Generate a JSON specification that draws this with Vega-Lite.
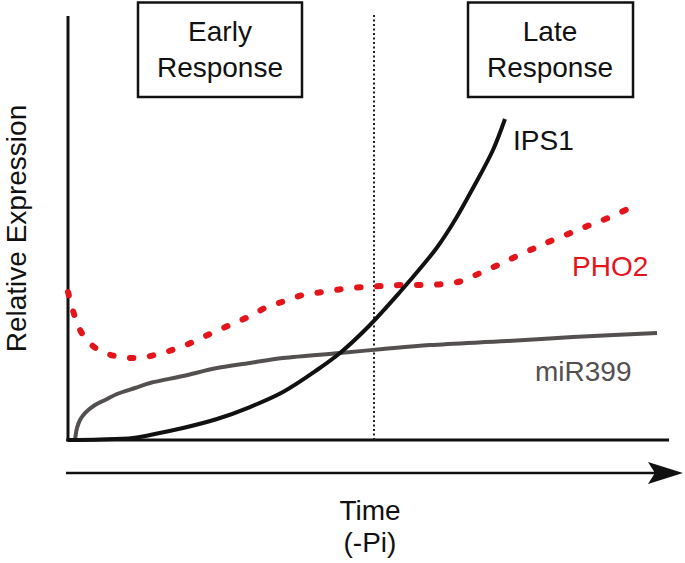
{
  "$schema": "https://vega.github.io/schema/vega-lite/v6.json",
  "width": 685,
  "height": 563,
  "autosize": {"type": "fit", "contains": "padding"},
  "padding": 0,
  "background": "white",
  "config": {"view": {"stroke": null}, "text": {"font": "Liberation Sans", "fontSize": 28}},
  "datasets": {
    "axes": [
      {"t": 0, "v": -0.035, "t2": 0, "v2": 9.976},
      {"t": -0.03, "v": 0, "t2": 10.017, "v2": 0}
    ],
    "shaft": [
      {"t": -0.033, "v": -0.776, "t2": 9.85, "v2": -0.776}
    ],
    "divider": [
      {"t": 5.1, "v": 0, "t2": 5.1, "v2": 10.05}
    ],
    "boxes": [
      {"t": 1.1667, "v": 10.294, "t2": 3.9, "v2": 8.071},
      {"t": 6.667, "v": 10.294, "t2": 9.417, "v2": 8.071}
    ],
    "arrowhead": [
      {"t": 9.958, "v": -0.776}
    ],
    "IPS1": [
      {"t": 0, "v": 0}, {"t": 0.533, "v": 0.012}, {"t": 1.083, "v": 0.047},
      {"t": 1.367, "v": 0.118}, {"t": 1.917, "v": 0.282}, {"t": 2.483, "v": 0.494},
      {"t": 3.033, "v": 0.776}, {"t": 3.583, "v": 1.129}, {"t": 4.15, "v": 1.647},
      {"t": 4.533, "v": 2.047}, {"t": 5.0, "v": 2.659}, {"t": 5.533, "v": 3.482},
      {"t": 5.917, "v": 4.118}, {"t": 6.15, "v": 4.529}, {"t": 6.45, "v": 5.176},
      {"t": 6.75, "v": 5.929}, {"t": 7.083, "v": 6.824}, {"t": 7.283, "v": 7.553}
    ],
    "PHO2": [
      {"t": 0, "v": 3.482}, {"t": 0.117, "v": 2.894}, {"t": 0.25, "v": 2.471},
      {"t": 0.483, "v": 2.141}, {"t": 0.783, "v": 1.976}, {"t": 1.117, "v": 1.929},
      {"t": 1.45, "v": 2.0}, {"t": 1.783, "v": 2.141}, {"t": 2.083, "v": 2.306},
      {"t": 2.4, "v": 2.518}, {"t": 2.7, "v": 2.706}, {"t": 3.0, "v": 2.894},
      {"t": 3.317, "v": 3.129}, {"t": 3.617, "v": 3.271}, {"t": 3.917, "v": 3.412},
      {"t": 4.25, "v": 3.482}, {"t": 4.583, "v": 3.553}, {"t": 4.917, "v": 3.6},
      {"t": 5.25, "v": 3.624}, {"t": 5.567, "v": 3.647}, {"t": 5.917, "v": 3.647},
      {"t": 6.25, "v": 3.671}, {"t": 6.567, "v": 3.741}, {"t": 6.867, "v": 3.929},
      {"t": 7.167, "v": 4.118}, {"t": 7.483, "v": 4.329}, {"t": 7.817, "v": 4.541},
      {"t": 8.083, "v": 4.706}, {"t": 8.417, "v": 4.894}, {"t": 8.7, "v": 5.059},
      {"t": 9.0, "v": 5.224}, {"t": 9.4, "v": 5.482}
    ],
    "miR399": [
      {"t": 0.117, "v": 0}, {"t": 0.15, "v": 0.282}, {"t": 0.2, "v": 0.471},
      {"t": 0.283, "v": 0.635}, {"t": 0.45, "v": 0.824}, {"t": 0.617, "v": 0.941},
      {"t": 0.817, "v": 1.082}, {"t": 1.117, "v": 1.224}, {"t": 1.367, "v": 1.341},
      {"t": 1.917, "v": 1.506}, {"t": 2.483, "v": 1.694}, {"t": 3.033, "v": 1.812},
      {"t": 3.583, "v": 1.929}, {"t": 4.533, "v": 2.047}, {"t": 5.25, "v": 2.141},
      {"t": 6.033, "v": 2.235}, {"t": 7.317, "v": 2.329}, {"t": 8.417, "v": 2.424},
      {"t": 9.817, "v": 2.518}
    ],
    "centerText": [
      {"t": 2.533, "v": 9.388, "label": "Early"},
      {"t": 2.533, "v": 8.541, "label": "Response"},
      {"t": 8.033, "v": 9.388, "label": "Late"},
      {"t": 8.033, "v": 8.541, "label": "Response"},
      {"t": 5.033, "v": -1.882, "label": "Time"},
      {"t": 5.033, "v": -2.635, "label": "(-Pi)"}
    ],
    "geneLabels": [
      {"t": 7.417, "v": 6.824, "label": "IPS1"},
      {"t": 8.4, "v": 3.859, "label": "PHO2"},
      {"t": 7.783, "v": 1.388, "label": "miR399"}
    ],
    "yTitle": [
      {"t": -0.7, "v": 4.976, "label": "Relative Expression"}
    ]
  },
  "layer": [
    {
      "data": {"name": "axes"},
      "mark": {"type": "rule", "color": "#111111", "strokeWidth": 3},
      "encoding": {
        "x": {"field": "t", "type": "quantitative", "scale": {"domain": [-1.1333, 10.2833], "nice": false, "zero": false}, "axis": null},
        "x2": {"field": "t2"},
        "y": {"field": "v", "type": "quantitative", "scale": {"domain": [-2.894, 10.353], "nice": false, "zero": false}, "axis": null},
        "y2": {"field": "v2"}
      }
    },
    {
      "data": {"name": "shaft"},
      "mark": {"type": "rule", "color": "#111111", "strokeWidth": 2.5},
      "encoding": {
        "x": {"field": "t", "type": "quantitative", "scale": {"domain": [-1.1333, 10.2833], "nice": false, "zero": false}, "axis": null},
        "x2": {"field": "t2"},
        "y": {"field": "v", "type": "quantitative", "scale": {"domain": [-2.894, 10.353], "nice": false, "zero": false}, "axis": null},
        "y2": {"field": "v2"}
      }
    },
    {
      "data": {"name": "arrowhead"},
      "mark": {"type": "point", "shape": "M 1 0 L -1 -0.63 L -0.6 0 L -1 0.63 Z", "size": 1225, "filled": true, "color": "#111111", "opacity": 1, "strokeWidth": 0},
      "encoding": {
        "x": {"field": "t", "type": "quantitative", "scale": {"domain": [-1.1333, 10.2833], "nice": false, "zero": false}, "axis": null},
        "y": {"field": "v", "type": "quantitative", "scale": {"domain": [-2.894, 10.353], "nice": false, "zero": false}, "axis": null}
      }
    },
    {
      "data": {"name": "divider"},
      "mark": {"type": "rule", "color": "#222222", "strokeWidth": 2, "strokeDash": [2, 2.5]},
      "encoding": {
        "x": {"field": "t", "type": "quantitative", "scale": {"domain": [-1.1333, 10.2833], "nice": false, "zero": false}, "axis": null},
        "x2": {"field": "t2"},
        "y": {"field": "v", "type": "quantitative", "scale": {"domain": [-2.894, 10.353], "nice": false, "zero": false}, "axis": null},
        "y2": {"field": "v2"}
      }
    },
    {
      "data": {"name": "boxes"},
      "mark": {"type": "rect", "fill": "#ffffff", "stroke": "#111111", "strokeWidth": 2.5},
      "encoding": {
        "x": {"field": "t", "type": "quantitative", "scale": {"domain": [-1.1333, 10.2833], "nice": false, "zero": false}, "axis": null},
        "x2": {"field": "t2"},
        "y": {"field": "v", "type": "quantitative", "scale": {"domain": [-2.894, 10.353], "nice": false, "zero": false}, "axis": null},
        "y2": {"field": "v2"}
      }
    },
    {
      "data": {"name": "miR399"},
      "mark": {"type": "line", "color": "#545050", "strokeWidth": 4, "interpolate": "catmull-rom"},
      "encoding": {
        "x": {"field": "t", "type": "quantitative", "scale": {"domain": [-1.1333, 10.2833], "nice": false, "zero": false}, "axis": null},
        "y": {"field": "v", "type": "quantitative", "scale": {"domain": [-2.894, 10.353], "nice": false, "zero": false}, "axis": null}
      }
    },
    {
      "data": {"name": "PHO2"},
      "mark": {"type": "line", "color": "#e4141b", "strokeWidth": 6, "strokeDash": [3.5, 16.5], "strokeCap": "round", "interpolate": "catmull-rom"},
      "encoding": {
        "x": {"field": "t", "type": "quantitative", "scale": {"domain": [-1.1333, 10.2833], "nice": false, "zero": false}, "axis": null},
        "y": {"field": "v", "type": "quantitative", "scale": {"domain": [-2.894, 10.353], "nice": false, "zero": false}, "axis": null}
      }
    },
    {
      "data": {"name": "IPS1"},
      "mark": {"type": "line", "color": "#111111", "strokeWidth": 4, "interpolate": "catmull-rom"},
      "encoding": {
        "x": {"field": "t", "type": "quantitative", "scale": {"domain": [-1.1333, 10.2833], "nice": false, "zero": false}, "axis": null},
        "y": {"field": "v", "type": "quantitative", "scale": {"domain": [-2.894, 10.353], "nice": false, "zero": false}, "axis": null}
      }
    },
    {
      "data": {"name": "centerText"},
      "mark": {"type": "text", "align": "center", "baseline": "alphabetic", "color": "#111111"},
      "encoding": {
        "x": {"field": "t", "type": "quantitative", "scale": {"domain": [-1.1333, 10.2833], "nice": false, "zero": false}, "axis": null},
        "y": {"field": "v", "type": "quantitative", "scale": {"domain": [-2.894, 10.353], "nice": false, "zero": false}, "axis": null},
        "text": {"field": "label"}
      }
    },
    {
      "data": {"name": "geneLabels"},
      "mark": {"type": "text", "align": "left", "baseline": "alphabetic"},
      "encoding": {
        "x": {"field": "t", "type": "quantitative", "scale": {"domain": [-1.1333, 10.2833], "nice": false, "zero": false}, "axis": null},
        "y": {"field": "v", "type": "quantitative", "scale": {"domain": [-2.894, 10.353], "nice": false, "zero": false}, "axis": null},
        "text": {"field": "label"},
        "color": {"field": "label", "type": "nominal", "scale": {"domain": ["IPS1", "PHO2", "miR399"], "range": ["#111111", "#e4141b", "#545050"]}, "legend": null}
      }
    },
    {
      "data": {"name": "yTitle"},
      "mark": {"type": "text", "align": "center", "baseline": "alphabetic", "angle": 270, "color": "#111111"},
      "encoding": {
        "x": {"field": "t", "type": "quantitative", "scale": {"domain": [-1.1333, 10.2833], "nice": false, "zero": false}, "axis": null},
        "y": {"field": "v", "type": "quantitative", "scale": {"domain": [-2.894, 10.353], "nice": false, "zero": false}, "axis": null},
        "text": {"field": "label"}
      }
    }
  ]
}
